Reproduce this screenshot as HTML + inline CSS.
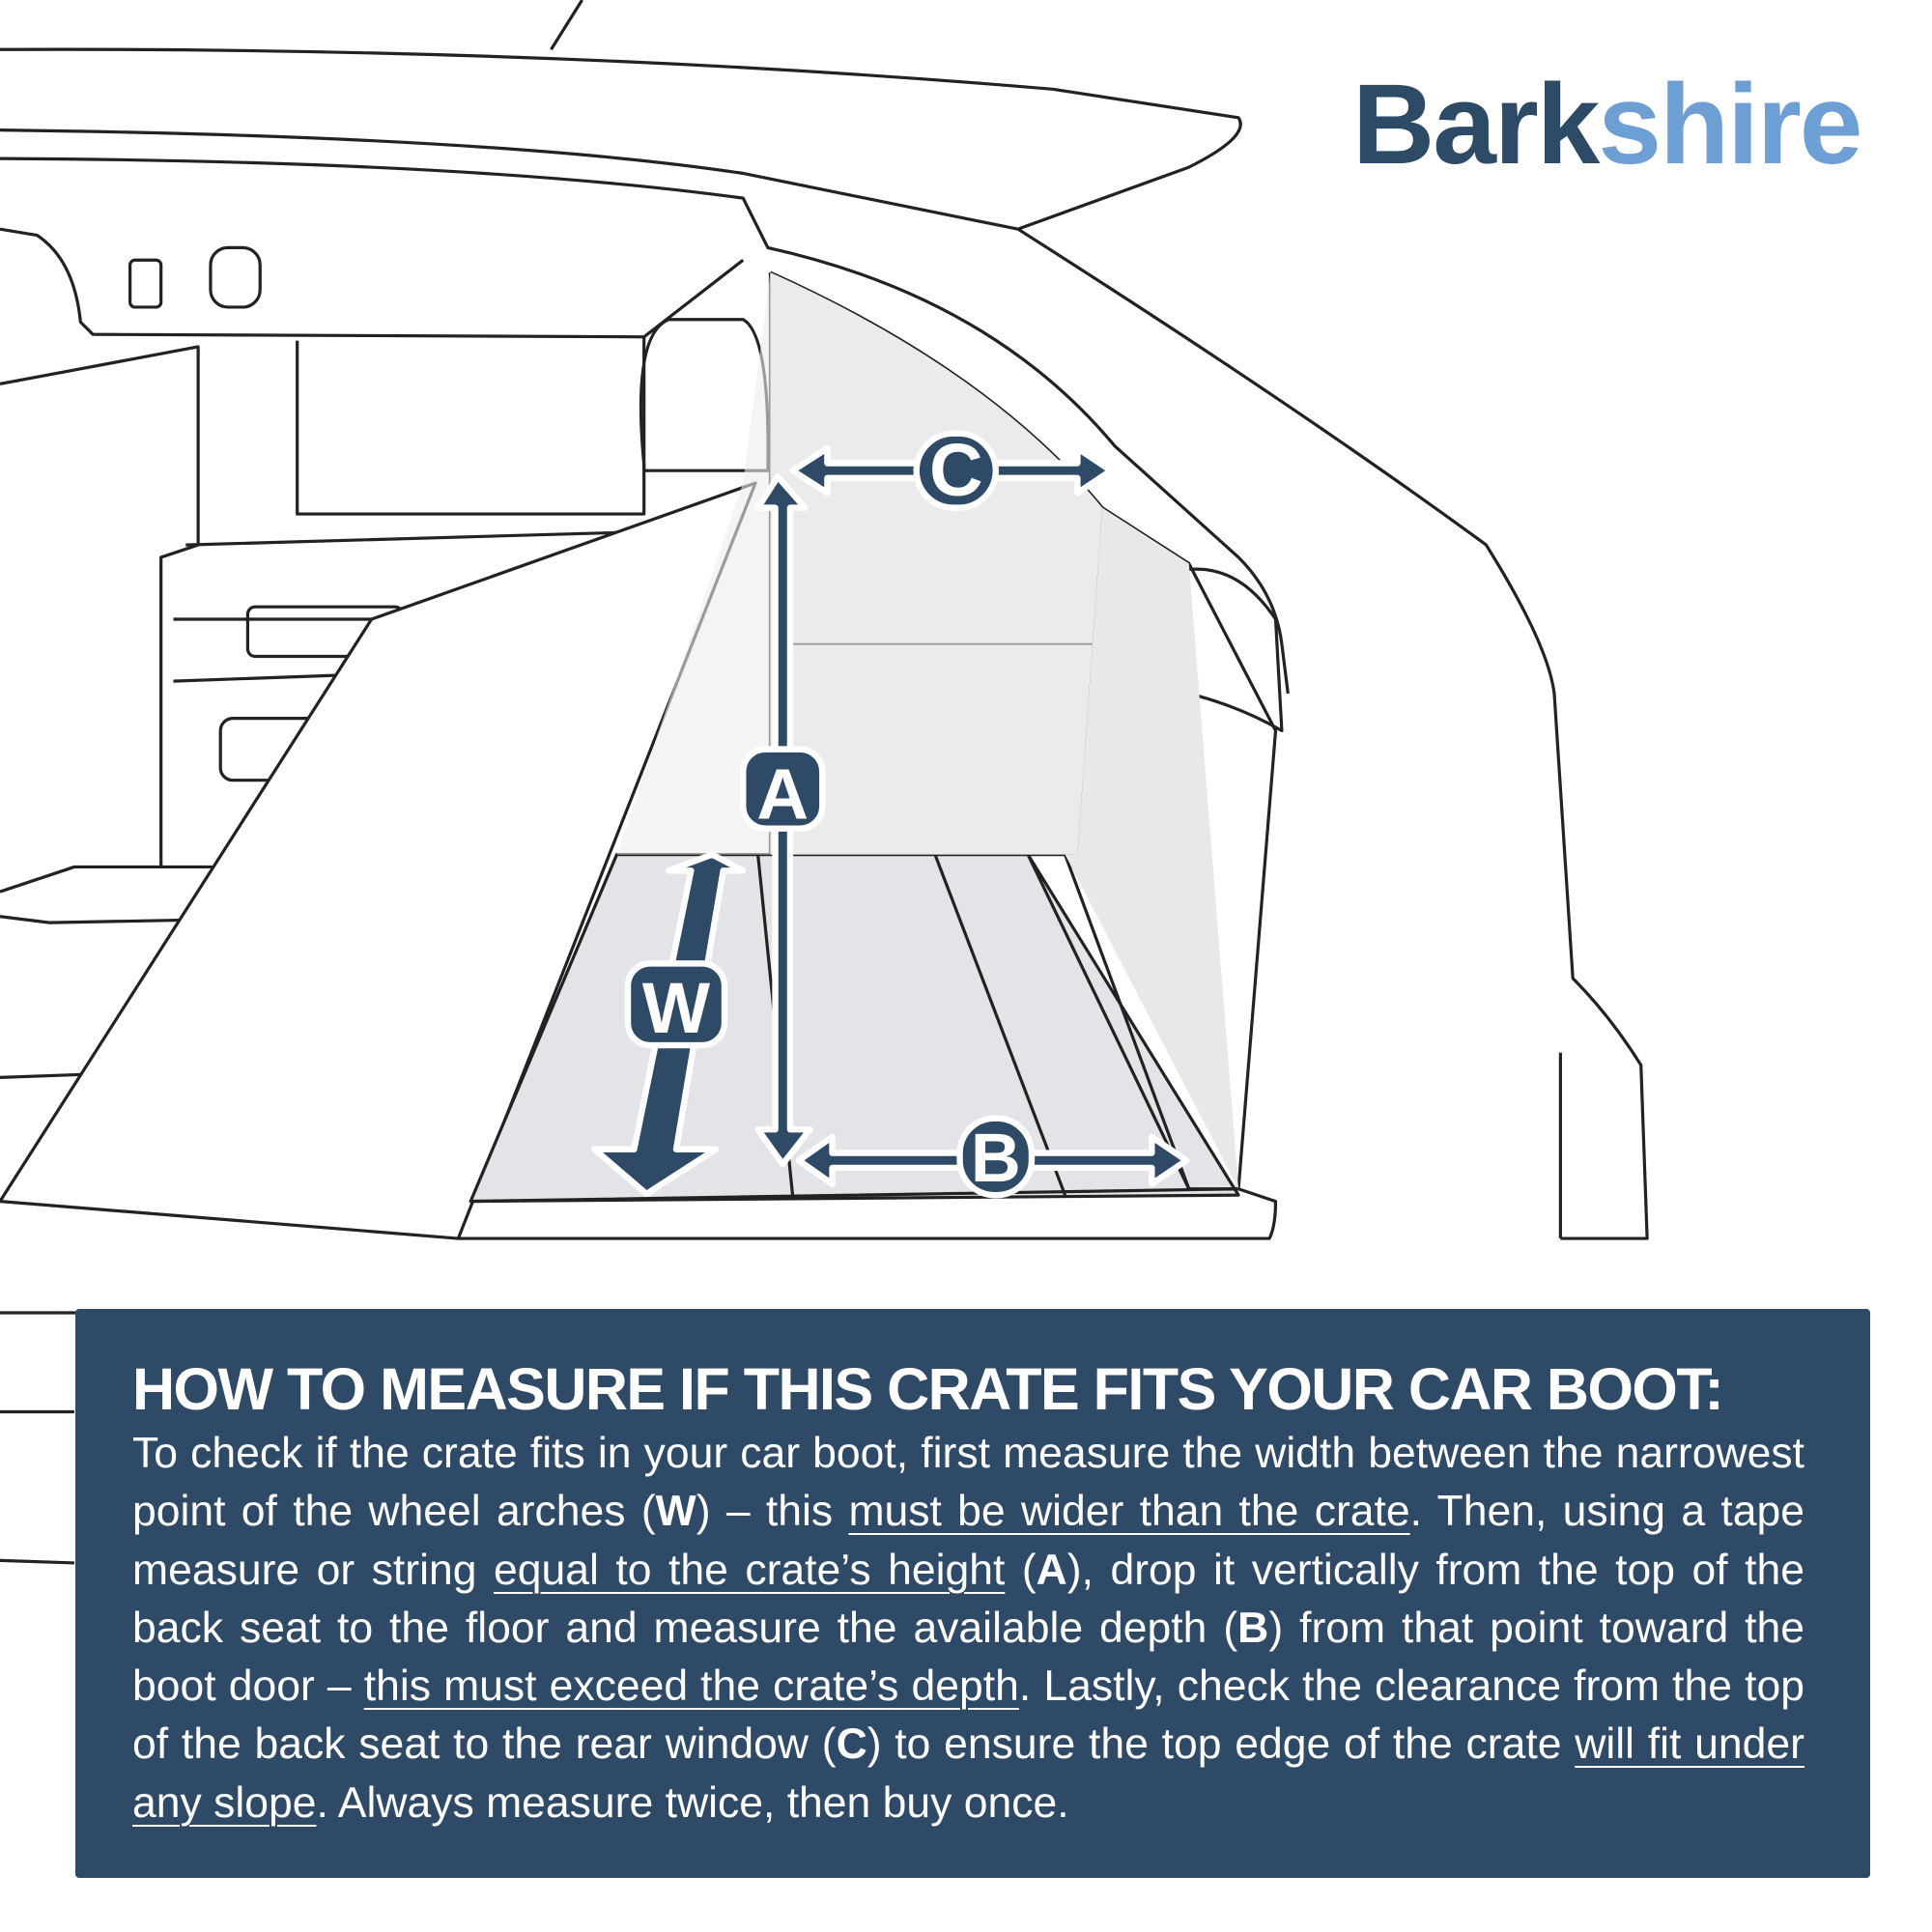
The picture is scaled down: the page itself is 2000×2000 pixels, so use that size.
<!DOCTYPE html>
<html><head><meta charset="utf-8"><style>
body{margin:0;width:2000px;height:2000px;background:#fff;position:relative;overflow:hidden;font-family:"Liberation Sans",sans-serif}
svg{position:absolute;left:0;top:0}
.logo{position:absolute;left:1400px;top:70px;font-size:118px;font-weight:bold;letter-spacing:-2px;line-height:1}
.box{position:absolute;left:78px;top:1355px;width:1858px;height:589px;background:#2f4a66;border-radius:4px}
.h{position:absolute;left:59px;top:48px;color:#fff;font-weight:bold;font-size:61px;letter-spacing:-1.5px;white-space:nowrap}
.t{position:absolute;left:59px;top:120px;width:1731px;color:#fff;font-size:44.5px;line-height:60.3px;text-align:justify}
.t u{text-decoration-thickness:2px;text-underline-offset:8px}
</style></head><body>
<svg width="2000" height="2000" viewBox="0 0 1560 1560">
<g fill="none" stroke="#222" stroke-width="2.5" stroke-linejoin="round">
<path d="M0 40 Q450 38 850 72 L1000 95 Q1010 110 960 135 L822 185"/>
<path d="M470 0 L445 40"/>
<path d="M0 105 Q400 110 600 140 L822 185 Q1050 330 1200 440 Q1250 520 1255 560 L1270 790 Q1300 820 1325 860 L1330 1000 L1260 1000"/>
<path d="M0 128 Q380 130 600 160 L620 200 Q800 240 900 360 L1000 450 Q1030 480 1035 520 L1040 560"/>
<path d="M0 185 L30 190 Q60 210 65 260 L75 270 L520 272 L600 210"/>
<path d="M0 310 L160 280 L160 440 L130 450 L130 700"/>
<path d="M240 275 L240 415 L520 415 L520 272"/>
<path d="M150 440 L500 430 M140 500 L470 500 M140 550 L420 540"/>
<rect x="200" y="490" width="125" height="40" rx="6"/>
<rect x="178" y="580" width="155" height="50" rx="10"/>
<rect x="105" y="210" width="25" height="38" rx="4"/>
<rect x="170" y="200" width="40" height="48" rx="14"/>
<path d="M0 720 L60 700 L300 700 L330 670"/>
<path d="M0 740 L40 745 L300 740 M0 870 L280 860"/>
<path d="M520 375 Q510 270 540 258 L600 258 Q622 270 620 380 L520 380 Z"/>
<path d="M0 970 L300 500 L610 390 L370 1000 Z" fill="#fff"/>
<path d="M380 970 L498 690 L830 690 L1000 965 Z" fill="#e3e4e7"/>
<path d="M622 220 L622 690 M622 220 Q800 300 890 410 L870 690 L830 690"/>
<path d="M890 410 L960 455 L1030 590 L1000 960 L960 960 L860 690"/>
<path d="M958 460 Q1000 455 1030 500 L1035 590 Q1000 570 960 560 Z"/>
<path d="M755 690 L860 965 M830 690 L960 960 M612 690 L640 965"/>
<path d="M370 1000 L1025 1000 Q1030 990 1030 970 L1000 960 L380 970"/>
<path d="M0 1060 L360 1060 M1260 850 L1260 1000 M0 1140 L60 1140 M0 1260 L60 1262"/>
</g>
<path d="M622 220 L622 690 L498 690 L600 390 Z" fill="#ececee" opacity=".6"/>
<path d="M622 220 Q800 300 890 410 L870 690 L622 690 Z" fill="#ebebed"/>
<path d="M890 410 L960 455 L1000 960 L860 690 L870 690 Z" fill="#e8e8ea"/>
<path d="M624 520 L882 520" stroke="#999" stroke-width="1.5"/>
<g fill="#2f4a66" stroke="#fff" stroke-width="5" stroke-linejoin="round">
<path d="M628 385 L650 410 L638 410 L638 912 L654 912 L632 940 L612 912 L626 912 L626 410 L612 410 Z"/>
<path d="M640 380 L668 362 L668 374 L870 374 L870 362 L897 380 L870 398 L870 386 L668 386 L668 398 Z"/>
<path d="M645 937 L672 918 L672 931 L930 931 L930 918 L958 937 L930 956 L930 943 L672 943 L672 956 Z"/>
<path d="M575 690 L600 703 L584 703 L546 928 L578 928 L522 964 L480 928 L512 928 L558 703 L540 703 Z"/>
</g>
<g fill="#2f4a66" stroke="#fff" stroke-width="5">
<rect x="740" y="350" width="64" height="60" rx="30"/>
<rect x="775" y="903" width="58" height="62" rx="28"/>
<rect x="600" y="605" width="64" height="64" rx="18"/>
<rect x="507" y="778" width="78" height="66" rx="18"/>
</g>
<g fill="#fff" font-family="Liberation Sans" font-weight="bold" text-anchor="middle">
<text x="772" y="400" font-size="60">C</text>
<text x="804" y="954" font-size="56">B</text>
<text x="632" y="661" font-size="58">A</text>
<text x="546" y="834" font-size="58">W</text>
</g>
</svg>
<div class="logo"><span style="color:#2d4a66">Bark</span><span style="color:#6d9ed4">shire</span></div>
<div class="box">
<div class="h">HOW TO MEASURE IF THIS CRATE FITS YOUR CAR BOOT:</div>
<div class="t">To check if the crate fits in your car boot, first measure the width between the narrowest point of the wheel arches (<b>W</b>) – this <u>must be wider than the crate</u>. Then, using a tape measure or string <u>equal to the crate’s height</u> (<b>A</b>), drop it vertically from the top of the back seat to the floor and measure the available depth (<b>B</b>) from that point toward the boot door – <u>this must exceed the crate’s depth</u>. Lastly, check the clearance from the top of the back seat to the rear window (<b>C</b>) to ensure the top edge of the crate <u>will fit under any slope</u>. Always measure twice, then buy once.</div>
</div>
</body></html>
